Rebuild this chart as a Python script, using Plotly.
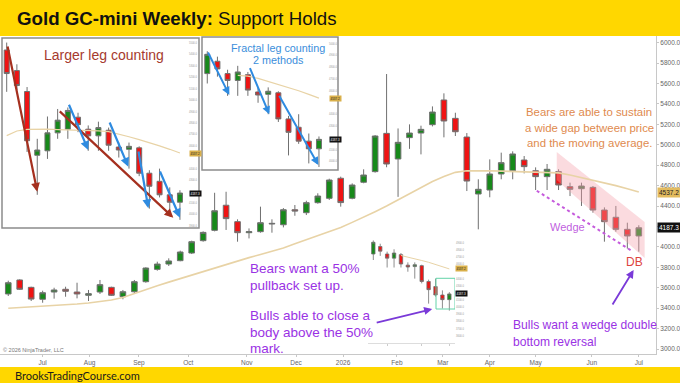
import plotly.graph_objects as go

W, H = 680, 383
FONT = "Liberation Sans, Arial, sans-serif"

# ---------------- data (weekly bars, index 0 = mid-June 2025) ----------------
bar_idx = list(range(56))
opens = [3539, 3676, 3604, 3487, 3558, 3585, 3558, 3526, 3558, 3604,
         3512, 3561, 3659, 3780, 3832, 3865, 3940, 4061, 4162, 4408,
         4247, 4139, 4149, 4224, 4217, 4364, 4335, 4433, 4476, 4672,
         4476, 4633, 4737, 5112, 4861, 5070, 5115, 5197, 5439, 5259,
         5076, 4518, 4557, 4714, 4746, 4851, 4746, 4688, 4737, 4590,
         4570, 4583, 4361, 4290, 4172, 4107]
highs = [3669, 3683, 3610, 3571, 3600, 3610, 3649, 3578, 3676, 3610,
         3578, 3676, 3800, 3855, 3888, 3963, 4061, 4152, 4530, 4540,
         4270, 4181, 4394, 4270, 4380, 4410, 4452, 4525, 4668, 4688,
         4622, 4760, 5095, 5693, 5160, 5200, 5187, 5376, 5504, 5314,
         5115, 4662, 4857, 4923, 4936, 4890, 4779, 4812, 4760, 4629,
         4629, 4596, 4387, 4401, 4237, 4212]
lows = [3519, 3578, 3470, 3453, 3493, 3512, 3496, 3470, 3539, 3519,
        3487, 3545, 3649, 3767, 3813, 3859, 3930, 4051, 4152, 4166,
        4051, 4083, 4139, 4139, 4191, 4305, 4312, 4423, 4460, 4394,
        4466, 4623, 4727, 4780, 4490, 4960, 4906, 5180, 5073, 5086,
        4547, 4172, 4486, 4662, 4662, 4720, 4557, 4557, 4557, 4498,
        4401, 4335, 4051, 4149, 3983, 3953]
closes = [3649, 3585, 3489, 3551, 3578, 3565, 3539, 3542, 3630, 3526,
          3561, 3659, 3793, 3832, 3862, 3950, 4051, 4142, 4354, 4277,
          4139, 4149, 4237, 4230, 4364, 4351, 4433, 4498, 4655, 4434,
          4606, 4704, 5086, 4812, 5024, 5115, 5151, 5321, 5233, 5128,
          4645, 4564, 4714, 4825, 4910, 4786, 4688, 4760, 4606, 4564,
          4596, 4361, 4247, 4172, 4107, 4187.3]
ma = [3399, 3405, 3410, 3418, 3425, 3432, 3440, 3450, 3462, 3480,
      3505, 3545, 3585, 3620, 3655, 3690, 3725, 3762, 3797, 3830,
      3865, 3895, 3925, 3955, 3990, 4030, 4070, 4110, 4150, 4190,
      4240, 4290, 4345, 4400, 4460, 4520, 4580, 4640, 4690, 4730,
      4745, 4748, 4746, 4742, 4740, 4738, 4735, 4731, 4725, 4705,
      4680, 4655, 4630, 4600, 4570, 4537.2]

# month labels sit under the first bar of each month
month_ticks = [3.0, 7.1, 11.4, 15.7, 20.8, 25.1, 29.2, 33.9, 37.9, 42.0, 46.0, 50.9, 55.0]
month_labels = ["Jul", "Aug", "Sep", "Oct", "Nov", "Dec", "2026",
                "Feb", "Mar", "Apr", "May", "Jun", "Jul"]
price_ticks = list(range(3000, 6001, 200))

inset1_start = 38   # inset charts zoom on the latest bars
inset2_start = 44
inset3_start = 44

wedge_band_x = [47.84, 55.51, 55.51, 47.84]
wedge_band_y = [4929, 4244, 3891, 4655]
wedge_line_x = [46.1, 54.4]
wedge_line_y = [4550, 3960]

GREEN = "#17891a"
RED = "#ef1313"
WICK = "#707070"
MA_COL = "#e8d3a6"


def px(x):
    return x / W


def py(y):
    return 1 - y / H


def candles(s, xa, ya, lw=1):
    return go.Candlestick(
        x=bar_idx[s:], open=opens[s:], high=highs[s:], low=lows[s:], close=closes[s:],
        xaxis=xa, yaxis=ya, whiskerwidth=0,
        increasing=dict(fillcolor=GREEN, line=dict(color=WICK, width=lw)),
        decreasing=dict(fillcolor=RED, line=dict(color=WICK, width=lw)),
        hoverinfo="skip")


def ma_line(s, xa, ya, w=1.6):
    return go.Scatter(x=bar_idx[s:], y=ma[s:], mode="lines", xaxis=xa, yaxis=ya,
                      line=dict(color=MA_COL, width=w), hoverinfo="skip")


fig = go.Figure()
# main chart
fig.add_trace(go.Scatter(x=wedge_band_x, y=wedge_band_y, fill="toself", mode="lines",
                         line=dict(width=0), fillcolor="rgba(244,160,172,0.38)",
                         hoverinfo="skip"))
fig.add_trace(ma_line(0, "x", "y", 1.6))
fig.add_trace(candles(0, "x", "y"))
fig.add_trace(go.Scatter(x=wedge_line_x, y=wedge_line_y, mode="lines",
                         line=dict(color="#c55bdc", width=2, dash="dot"), hoverinfo="skip"))
# inset 1
fig.add_trace(ma_line(inset1_start, "x2", "y2", 1.2))
fig.add_trace(candles(inset1_start, "x2", "y2"))
# inset 2
fig.add_trace(ma_line(inset2_start + 3, "x3", "y3", 1.2))
fig.add_trace(candles(inset2_start, "x3", "y3"))
# inset 3
fig.add_trace(ma_line(inset3_start + 4, "x4", "y4", 1.0))
fig.add_trace(candles(inset3_start, "x4", "y4", 0.8))


def tiny_y(lo, hi):
    # small right-hand price scale of an inset, leaving room for the value tags
    vals = [v for v in range(int(lo // 100 + 1) * 100, int(hi), 100)
            if abs(v - ma[-1]) > 45 and abs(v - closes[-1]) > 45]
    return dict(range=[lo, hi], side="right", showgrid=False, zeroline=False, showline=False,
                ticks="", tickvals=vals, tickformat=".1f",
                tickfont=dict(size=2.6, color="#9a9a9a", family=FONT))


hidden_x = dict(visible=False, rangeslider=dict(visible=False), showgrid=False, zeroline=False)

fig.update_layout(
    width=W, height=H, margin=dict(l=0, r=0, t=0, b=0),
    paper_bgcolor="#ffffff", plot_bgcolor="white", showlegend=False,
    boxgap=0.3, font=dict(family=FONT),
    xaxis=dict(domain=[0, px(656)], range=[-0.72, 56.5], rangeslider=dict(visible=False),
               tickvals=month_ticks, ticktext=month_labels, showgrid=False, zeroline=False,
               showline=True, linecolor="#c8c8c8", linewidth=1, ticks="outside", ticklen=2,
               tickcolor="#c8c8c8", tickfont=dict(size=6.5, color="#666666")),
    yaxis=dict(domain=[py(354), py(36)], range=[2951, 6065.5], side="right",
               tickvals=price_ticks, tickformat=".1f", showgrid=False, zeroline=False,
               showline=True, linecolor="#c8c8c8", linewidth=1, ticks="outside", ticklen=2,
               tickcolor="#c8c8c8", tickfont=dict(size=6.5, color="#666666")),
    xaxis2=dict(domain=[px(2), px(188)], range=[37.54, 55.79], anchor="y2", **hidden_x),
    yaxis2=dict(domain=[py(228), py(38)], anchor="x2", **tiny_y(3881.5, 5544)),
    xaxis3=dict(domain=[px(202), px(328)], range=[43.48, 55.89], anchor="y3", **hidden_x),
    yaxis3=dict(domain=[py(170), py(37)], anchor="x3", **tiny_y(3927, 5057)),
    xaxis4=dict(domain=[px(368), px(455)], range=[43.23, 55.82], anchor="y4",
                rangeslider=dict(visible=False), showgrid=False, zeroline=False,
                showline=True, linecolor="#dddddd", ticks="outside", ticklen=2,
                tickcolor="#cccccc", tickvals=[46, 51, 55], showticklabels=False),
    yaxis4=dict(domain=[py(343), py(238)], anchor="x4", **tiny_y(3500, 4970)),
)

YELLOW = "#ffd700"
shapes = [
    dict(type="rect", xref="paper", yref="paper", x0=0, x1=1, y0=py(36), y1=1,
         fillcolor=YELLOW, line=dict(width=0), layer="below"),
    dict(type="rect", xref="paper", yref="paper", x0=0, x1=1, y0=0, y1=py(367),
         fillcolor=YELLOW, line=dict(width=0), layer="below"),
    dict(type="rect", xref="paper", yref="paper", x0=px(2), x1=px(199), y0=py(228), y1=py(38),
         line=dict(color="#8c8c8c", width=1.5)),
    dict(type="rect", xref="paper", yref="paper", x0=px(202), x1=px(338), y0=py(170), y1=py(37),
         line=dict(color="#8c8c8c", width=1.5)),
    dict(type="rect", xref="x4", yref="y4", x0=53.07, x1=55.82, y0=3976, y1=4406,
         line=dict(color="#62d3a8", width=1)),
]
fig.update_layout(shapes=shapes)

ann = []


def text(x, y, s, size, color, anchor="left", family=FONT):
    ann.append(dict(xref="paper", yref="paper", x=px(x), y=py(y), text=s, showarrow=False,
                    xanchor=anchor, yanchor="middle",
                    font=dict(size=size, color=color, family=family)))


text(15, 18, "<b>Gold GC-mini Weekly:</b> Support Holds", 18.7, "#111111")
text(13, 375, "BrooksTradingCourse.com", 11, "#1b1b1b", family="Lato, sans-serif")
text(1, 350, "© 2026 NinjaTrader, LLC", 5.5, "#777777")

text(104, 55, "Larger leg counting", 14, "#a63a2e", "center")
text(278, 48, "Fractal leg counting", 10.8, "#3b8edb", "center")
text(278, 60, "2 methods", 10.8, "#3b8edb", "center")
BEAR_OR = "#e08a4e"
text(589, 112, "Bears are able to sustain", 11.4, BEAR_OR, "center")
text(589, 127.5, "a wide gap between price", 11.4, BEAR_OR, "center")
text(589, 142.5, "and the moving average.", 11.4, BEAR_OR, "center")
text(567, 227, "Wedge", 11, "#bf5fe0", "center")
text(634, 262, "DB", 12, "#dd4440", "center")
PURP = "#9a32e4"
text(248, 268, "Bears want a 50%", 13.5, PURP)
text(248, 285, "pullback set up.", 13.5, PURP)
text(248, 315, "Bulls able to close a", 13.5, PURP)
text(248, 332, "body above the 50%", 13.5, PURP)
text(248, 348, "mark.", 13.5, PURP)
text(511, 325, "Bulls want a wedge double", 12.1, PURP)
text(511, 342, "bottom reversal", 12.1, PURP)

# right-axis value tags
ann.append(dict(xref="paper", yref="y", x=px(657), y=ma[-1], text=f"{ma[-1]:.1f}",
                showarrow=False, xanchor="left", yanchor="middle", bgcolor="#e3bb5e",
                borderpad=1, font=dict(size=6.5, color="#222222")))
ann.append(dict(xref="paper", yref="y", x=px(657), y=closes[-1], text=f"{closes[-1]:.1f}",
                showarrow=False, xanchor="left", yanchor="middle", bgcolor="#111111",
                borderpad=1, font=dict(size=6.5, color="#ffffff")))
# inset value tags
for ya, x0 in (("y2", 188.5), ("y3", 328.5), ("y4", 455.5)):
    ann.append(dict(xref="paper", yref=ya, x=px(x0), y=ma[-1], text=f"{ma[-1]:.1f}",
                    showarrow=False, xanchor="left", yanchor="middle", bgcolor="#d9b04a",
                    borderpad=0.5, font=dict(size=3, color="#222222")))
    ann.append(dict(xref="paper", yref=ya, x=px(x0), y=closes[-1], text=f"{closes[-1]:.1f}",
                    showarrow=False, xanchor="left", yanchor="middle", bgcolor="#111111",
                    borderpad=0.5, font=dict(size=3, color="#ffffff")))


def arrow(xa, ya, tail, head, color, width=2.2, size=0.8):
    ann.append(dict(xref=xa, yref=ya, axref=xa, ayref=ya, x=head[0], y=head[1],
                    ax=tail[0], ay=tail[1], text="", showarrow=True, arrowhead=2,
                    arrowsize=size, arrowwidth=width, arrowcolor=color, standoff=0))


DRED = "#a5301f"
BLUE = "#2f8be0"
arrow("x2", "y2", (38.06, 5483), (41.0, 4199), DRED)
arrow("x2", "y2", (43.06, 4914), (54.35, 3972), DRED)
arrow("x2", "y2", (44.05, 4973), (46.0, 4564), BLUE)
arrow("x2", "y2", (48.04, 4818), (49.93, 4418), BLUE)
arrow("x2", "y2", (50.91, 4564), (51.9, 4054), BLUE)
arrow("x2", "y2", (52.98, 4389), (55.0, 3972), BLUE)
arrow("x3", "y3", (44.0, 4938), (46.17, 4564), BLUE, 2)
arrow("x3", "y3", (48.14, 4805), (50.11, 4400), BLUE, 2)
arrow("x3", "y3", (51.0, 4570), (54.94, 3969), BLUE, 2)

# purple pointer arrows
ann.append(dict(xref="x4", yref="y4", x=52.52, y=3976, ax=-57, ay=14, text="",
                showarrow=True, arrowhead=2, arrowsize=0.9, arrowwidth=1.8,
                arrowcolor="#7a3ad8", standoff=0))
ann.append(dict(xref="x", yref="y", x=54.55, y=3774, ax=-22, ay=36, text="",
                showarrow=True, arrowhead=2, arrowsize=0.9, arrowwidth=1.8,
                arrowcolor="#7a3ad8", standoff=0))

fig.update_layout(annotations=ann)
fig.write_html("out.html")
